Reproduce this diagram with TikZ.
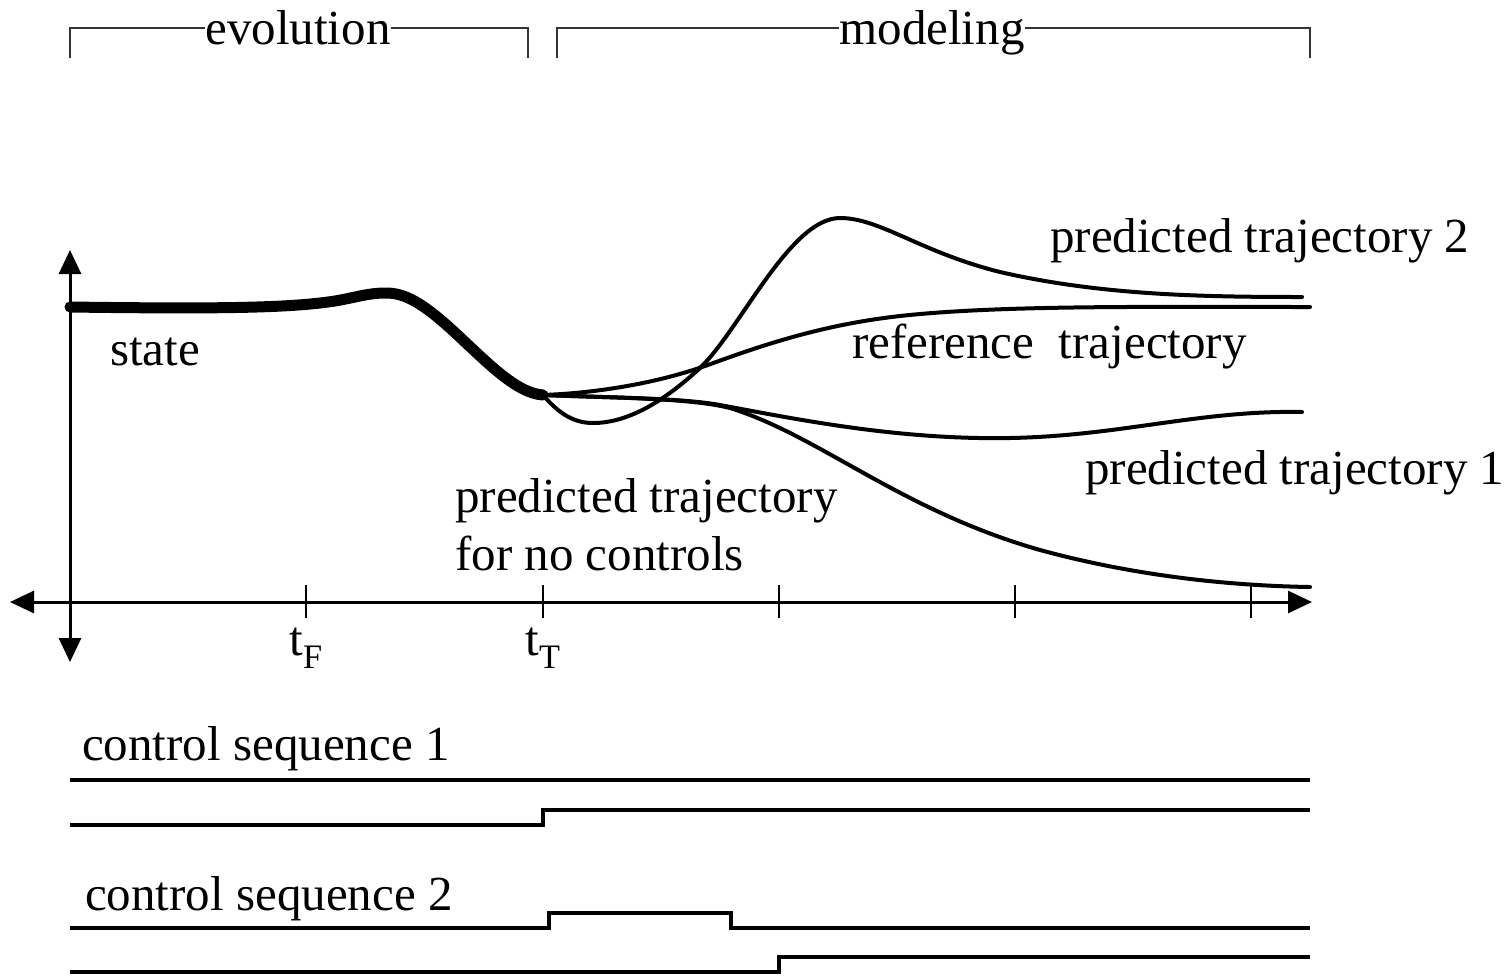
\documentclass[tikz,border=0pt]{standalone}
\usepackage{fontspec}
\setmainfont{Liberation Serif}
\usetikzlibrary{arrows.meta}
\begin{document}
\begin{tikzpicture}[x=1pt,y=-1pt,
  lbl/.style={inner sep=0pt,anchor=base west,font=\fontsize{49}{59}\selectfont},
  clbl/.style={inner sep=0pt,anchor=base,font=\fontsize{49}{59}\selectfont},
  bracket/.style={line width=2pt,draw=black!80},
  axis/.style={line width=3pt},
  tri/.style={-{Triangle[length=24pt,width=22pt]}},
  tick/.style={line width=2.5pt},
  traj/.style={line width=4pt,line cap=round},
  ctrl/.style={line width=4.5pt}]
\useasboundingbox (0,0) rectangle (1511,975);
% brackets
\node[clbl] (evo) at (298,44) {evolution};
\node[clbl] (mod) at (932,44) {modeling};
\coordinate (e1) at (70,58); \coordinate (e2) at (528,58);
\coordinate (m1) at (557,58); \coordinate (m2) at (1310,58);
\draw[bracket] (e1) |- (evo.west |- 0,28) (evo.east |- 0,28) -| (e2);
\draw[bracket] (m1) |- (mod.west |- 0,28) (mod.east |- 0,28) -| (m2);
% axes
\coordinate (O) at (70,602);
\coordinate (yt) at (70,250); \coordinate (yb) at (70,662);
\coordinate (xl) at (10,602); \coordinate (xr) at (1312,602);
\draw[axis,tri] (O) -- (yt);
\draw[axis,tri] (O) -- (yb);
\draw[axis,tri] (O) -- (xl);
\draw[axis,tri] (O) -- (xr);
\foreach \x in {306,543,779,1015,1251}
  \draw[tick] (\x,585) -- (\x,618);
\node[clbl] (tF) at (306,655) {t\textsubscript{F}};
\node[clbl] (tT) at (543,655) {t\textsubscript{T}};
% state
\coordinate (s0) at (70,307);
\coordinate (tT0) at (543,395);
\draw[line width=11pt,line cap=round] (s0) .. controls (220,309) and (290,308) .. (335,301)
  .. controls (358,297) and (368,293) .. (386,293)
  .. controls (405,293) and (422,303) .. (450,328)
  .. controls (485,360) and (515,393) .. (tT0);
% reference
\draw[traj] (tT0) .. controls (600,393) and (660,382) .. (705,366)
  .. controls (760,346) and (820,325) .. (900,316)
  .. controls (1000,305) and (1150,307) .. (1310,307);
% predicted 2
\draw[traj] (tT0) .. controls (560,415) and (575,423) .. (593,423)
  .. controls (625,423) and (660,405) .. (700,368)
  .. controls (740,330) and (790,218) .. (840,218)
  .. controls (880,218) and (920,252) .. (1000,272)
  .. controls (1100,295) and (1200,297) .. (1302,297);
% predicted 1
\draw[traj] (tT0) .. controls (620,398) and (680,398) .. (720,405)
  .. controls (800,420) and (900,440) .. (1010,438)
  .. controls (1120,436) and (1200,410) .. (1302,412);
% no controls
\draw[traj] (tT0) .. controls (620,398) and (690,398) .. (730,408)
  .. controls (820,436) and (900,510) .. (1040,550)
  .. controls (1150,580) and (1250,586) .. (1310,587);
% labels
\node[lbl] (st) at (110,365) {state};
\node[lbl] (rt) at (852,358) {reference\ \ trajectory};
\node[lbl] (p2) at (1050,252) {predicted trajectory 2};
\node[lbl] (p1) at (1085,484) {predicted trajectory 1};
\node[lbl] (pn) at (455,512) {predicted trajectory};
\node[lbl] (pn2) at (455,570) {for no controls};
\node[lbl] (c1) at (82,760) {control sequence 1};
\node[lbl] (c2) at (85,910) {control sequence 2};
% control sequences
\draw[ctrl] (70,780) -- (1310,780);
\draw[ctrl] (70,825) -- (543,825) -- (543,810) -- (1310,810);
\draw[ctrl] (70,928) -- (549,928) -- (549,913) -- (731,913) -- (731,928) -- (1310,928);
\draw[ctrl] (70,972) -- (779,972) -- (779,957) -- (1310,957);
\end{tikzpicture}
\end{document}
